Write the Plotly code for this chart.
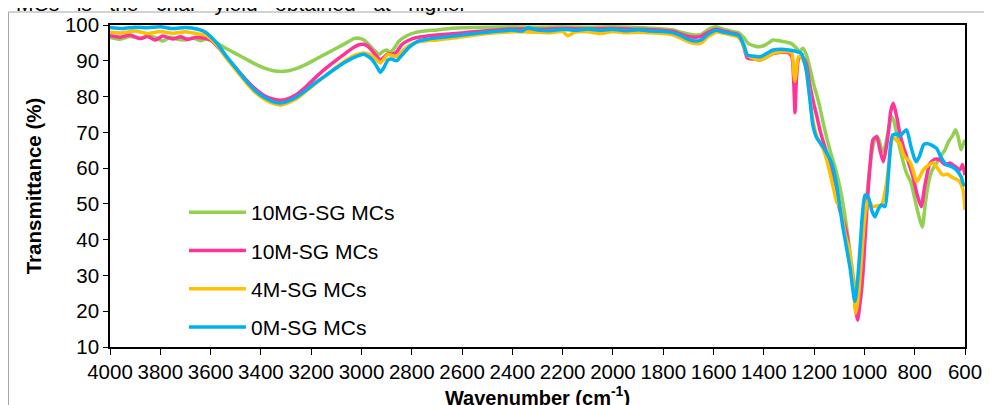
import plotly.graph_objects as go

# ---------------- data (wavenumber cm-1, transmittance %) ----------------
series_names = ["10MG-SG MCs", "10M-SG MCs", "4M-SG MCs", "0M-SG MCs"]
series_colors = ["#92D050", "#FF3399", "#FFC000", "#00B0F0"]

data_10mg = [
    (4000, 96.5), (3960, 96.0), (3920, 96.8), (3880, 96.3), (3850, 96.9), (3820, 96.5), (3790, 95.5),
    (3760, 96.6), (3730, 96.0), (3700, 95.8), (3670, 96.4), (3640, 95.6), (3620, 96.0), (3600, 95.8),
    (3570, 94.8), (3540, 93.5), (3500, 92.0), (3460, 90.5), (3420, 89.0), (3380, 87.8), (3350, 87.2),
    (3320, 87.0), (3290, 87.2), (3260, 87.8), (3220, 89.0), (3180, 90.5), (3140, 92.0), (3100, 93.5),
    (3060, 95.0), (3030, 96.2), (3010, 96.3), (2990, 95.8), (2970, 94.5), (2950, 93.0), (2930, 91.8),
    (2915, 92.6), (2900, 93.0), (2885, 92.4), (2870, 93.5), (2850, 95.5), (2820, 97.0), (2780, 98.0),
    (2740, 98.4), (2700, 98.6), (2650, 99.0), (2600, 99.2), (2500, 99.4), (2400, 99.5), (2300, 99.4),
    (2200, 99.5), (2100, 99.4), (2000, 99.5), (1900, 99.3), (1850, 99.1), (1800, 98.9), (1760, 98.6),
    (1730, 98.0), (1700, 97.5), (1670, 97.2), (1650, 97.3), (1620, 98.8), (1590, 99.5), (1560, 98.8),
    (1530, 98.3), (1500, 97.8), (1480, 96.5), (1463, 94.9), (1440, 94.2), (1415, 93.9), (1390, 94.6),
    (1363, 95.8), (1340, 95.6), (1310, 95.2), (1290, 94.8), (1270, 93.5), (1260, 92.6), (1244, 93.5),
    (1230, 91.5), (1215, 87.5), (1200, 83.0), (1190, 80.5), (1177, 77.0), (1165, 73.0), (1150, 68.5),
    (1135, 64.5), (1120, 61.0), (1105, 57.0), (1090, 52.0), (1075, 45.5), (1060, 38.0), (1045, 30.0),
    (1030, 23.5), (1020, 21.5), (1010, 27.0), (1000, 40.0), (990, 52.0), (978, 60.5), (965, 66.5),
    (951, 69.0), (940, 67.5), (930, 64.5), (918, 66.0), (905, 70.5), (893, 74.5), (882, 73.0),
    (870, 69.0), (859, 65.5), (845, 61.5), (832, 58.5), (815, 56.0), (800, 51.5), (785, 47.0),
    (770, 43.5), (758, 50.0), (745, 56.0), (730, 59.5), (713, 61.4), (695, 63.5), (680, 65.0),
    (665, 67.5), (650, 69.0), (638, 70.7), (628, 69.0), (616, 65.1), (608, 66.5), (600, 67.9),
]

data_10m = [
    (4000, 97.0), (3960, 96.6), (3920, 97.2), (3880, 96.2), (3850, 96.8), (3820, 95.8), (3790, 96.9),
    (3750, 96.1), (3720, 96.7), (3690, 96.0), (3660, 96.5), (3620, 96.3), (3600, 95.8), (3570, 93.8),
    (3540, 91.3), (3500, 88.0), (3460, 84.8), (3420, 82.0), (3380, 80.0), (3340, 79.1), (3320, 79.0),
    (3300, 79.2), (3260, 80.5), (3220, 82.8), (3180, 85.5), (3140, 88.0), (3100, 90.2), (3060, 92.3),
    (3030, 93.8), (3000, 94.6), (2980, 94.3), (2960, 93.0), (2940, 91.3), (2925, 90.2), (2910, 91.0),
    (2895, 92.0), (2880, 91.8), (2860, 92.5), (2840, 94.5), (2810, 95.8), (2780, 96.5), (2740, 96.9),
    (2700, 97.2), (2650, 97.5), (2600, 97.8), (2550, 98.1), (2500, 98.4), (2450, 98.7), (2400, 98.9),
    (2300, 98.8), (2200, 99.0), (2100, 98.9), (2000, 99.0), (1900, 98.8), (1850, 98.7), (1800, 98.5),
    (1760, 98.2), (1730, 97.5), (1700, 96.8), (1670, 96.6), (1650, 96.8), (1620, 98.0), (1590, 98.8),
    (1560, 98.3), (1530, 97.8), (1500, 97.2), (1480, 94.0), (1465, 90.7), (1440, 90.5), (1415, 90.2),
    (1390, 91.0), (1363, 92.0), (1330, 92.4), (1300, 92.2), (1288, 91.0), (1281, 84.0), (1276, 75.5),
    (1271, 84.0), (1262, 90.5), (1250, 91.3), (1240, 90.5), (1230, 88.8), (1215, 82.5), (1200, 77.5),
    (1190, 74.8), (1177, 70.7), (1160, 66.5), (1137, 61.4), (1115, 54.0), (1098, 48.3), (1085, 45.5),
    (1071, 41.9), (1058, 35.0), (1045, 27.9), (1035, 20.5), (1027, 17.5), (1018, 22.0), (1006, 30.7),
    (996, 42.0), (986, 53.0), (976, 62.0), (966, 67.9), (951, 68.8), (938, 65.0), (925, 61.8),
    (915, 65.0), (905, 69.7), (895, 76.0), (885, 78.1), (872, 74.5), (859, 69.7), (845, 66.0),
    (832, 63.2), (807, 57.6), (790, 52.5), (774, 49.2), (760, 55.0), (739, 61.4), (720, 62.5),
    (700, 62.3), (680, 61.0), (660, 61.4), (640, 60.5), (620, 59.5), (610, 61.0), (600, 58.0),
]

data_4m = [
    (4000, 98.0), (3950, 97.8), (3900, 98.3), (3850, 97.6), (3800, 98.2), (3750, 97.7), (3700, 98.1),
    (3650, 97.5), (3620, 97.2), (3600, 96.2), (3570, 94.0), (3540, 91.0), (3500, 87.5), (3460, 84.0),
    (3420, 81.0), (3380, 79.0), (3340, 77.8), (3320, 77.6), (3300, 78.0), (3260, 79.3), (3220, 81.5),
    (3180, 83.8), (3140, 86.0), (3100, 88.2), (3060, 90.2), (3020, 91.7), (2990, 92.2), (2960, 91.5),
    (2940, 90.2), (2925, 89.4), (2910, 90.5), (2895, 91.8), (2880, 91.5), (2860, 91.2), (2840, 92.5),
    (2810, 94.3), (2780, 95.2), (2740, 95.6), (2700, 95.8), (2650, 96.2), (2600, 96.7), (2550, 97.2),
    (2500, 97.6), (2450, 97.9), (2400, 98.1), (2300, 98.0), (2250, 97.8), (2200, 98.2), (2180, 97.0),
    (2150, 98.0), (2100, 98.1), (2050, 97.6), (2000, 98.2), (1950, 97.8), (1900, 98.0), (1850, 97.8),
    (1800, 97.6), (1760, 97.2), (1730, 96.3), (1700, 95.3), (1670, 94.8), (1650, 94.9), (1620, 96.8),
    (1590, 98.0), (1560, 97.7), (1530, 97.2), (1500, 96.5), (1480, 94.2), (1465, 91.5), (1440, 90.6),
    (1415, 90.2), (1390, 91.0), (1363, 92.1), (1330, 92.5), (1300, 92.5), (1288, 92.0), (1280, 86.0),
    (1276, 84.2), (1271, 87.0), (1262, 91.2), (1250, 91.0), (1235, 88.5), (1222, 82.5), (1205, 73.5),
    (1190, 69.0), (1165, 65.5), (1150, 62.3), (1125, 55.0), (1110, 50.5), (1098, 49.2), (1075, 41.0),
    (1060, 37.1), (1045, 28.0), (1034, 19.4), (1024, 24.0), (1014, 32.5), (1000, 45.0), (986, 51.1),
    (970, 49.5), (966, 49.2), (950, 49.5), (932, 49.7), (912, 55.8), (895, 66.0), (887, 68.8),
    (870, 67.5), (859, 67.0), (850, 65.0), (840, 63.2), (819, 61.8), (805, 59.0), (793, 56.2),
    (780, 57.5), (766, 59.5), (745, 60.8), (727, 61.4), (710, 60.0), (688, 58.1), (670, 58.3),
    (648, 57.3), (625, 56.5), (608, 53.9), (600, 48.3),
]

data_0m = [
    (4000, 99.3), (3950, 99.0), (3900, 99.4), (3850, 99.2), (3800, 99.5), (3750, 99.0), (3700, 99.3),
    (3650, 98.8), (3620, 98.0), (3600, 96.8), (3570, 94.5), (3540, 91.5), (3500, 88.0), (3460, 84.5),
    (3420, 81.5), (3380, 79.5), (3340, 78.3), (3320, 78.2), (3300, 78.5), (3260, 79.8), (3220, 81.8),
    (3180, 84.0), (3140, 86.0), (3100, 88.0), (3060, 89.8), (3020, 91.2), (2990, 91.8), (2960, 90.5),
    (2940, 88.5), (2925, 86.8), (2910, 88.2), (2895, 90.2), (2880, 90.5), (2860, 90.0), (2840, 91.5),
    (2810, 93.8), (2780, 95.3), (2740, 96.0), (2700, 96.4), (2650, 96.8), (2600, 97.2), (2550, 97.6),
    (2500, 98.0), (2450, 98.3), (2400, 98.6), (2360, 98.3), (2340, 99.2), (2300, 98.6), (2250, 98.4),
    (2200, 98.8), (2150, 98.5), (2100, 98.9), (2050, 98.5), (2000, 98.8), (1950, 98.4), (1900, 98.7),
    (1850, 98.3), (1800, 98.2), (1760, 97.8), (1730, 97.0), (1700, 96.0), (1670, 95.5), (1650, 95.8),
    (1620, 97.5), (1590, 98.5), (1560, 98.0), (1530, 97.6), (1500, 97.0), (1480, 94.5), (1465, 91.6),
    (1440, 91.3), (1415, 91.1), (1390, 92.0), (1363, 93.0), (1330, 93.2), (1300, 93.0), (1270, 92.6),
    (1250, 92.0), (1240, 90.0), (1230, 87.0), (1218, 80.0), (1205, 72.0), (1190, 68.5), (1165, 66.0),
    (1130, 61.3), (1110, 55.0), (1086, 43.6), (1058, 32.5), (1038, 22.7), (1028, 28.0), (1018, 37.0),
    (1008, 47.0), (998, 52.5), (985, 52.0), (970, 48.0), (958, 46.4), (945, 48.5), (932, 49.7),
    (918, 49.3), (905, 58.0), (895, 67.0), (887, 69.3), (870, 69.5), (859, 68.9), (845, 70.0),
    (832, 70.7), (815, 66.0), (800, 62.5), (793, 61.8), (780, 63.5), (765, 66.5), (753, 66.9),
    (735, 66.5), (713, 65.5), (695, 63.0), (674, 60.9), (655, 60.5), (634, 59.5), (615, 57.5),
    (608, 55.8), (600, 55.0),
]

x_ticks = [4000, 3800, 3600, 3400, 3200, 3000, 2800, 2600, 2400, 2200, 2000, 1800, 1600, 1400, 1200, 1000, 800, 600]
y_ticks = [10, 20, 30, 40, 50, 60, 70, 80, 90, 100]

# ---------------- figure ----------------
# The page body has an 8px margin, so the figure is laid out in figure
# coordinates offset by 8px from the screenshot.
FONT = "Liberation Sans, Arial, sans-serif"
ML, MT, PW, PH = 102, 17, 855, 322  # plot area (figure coords)

fig = go.Figure()
for name, color, data in zip(series_names, series_colors, [data_10mg, data_10m, data_4m, data_0m]):
    xs = [p[0] for p in data]
    ys = [p[1] for p in data]
    fig.add_trace(go.Scatter(
        x=xs, y=ys, mode="lines", name=name, legendgroup=name,
        line=dict(color=color, width=3.5, shape="spline", smoothing=0.6),
    ))

fig.update_layout(
    width=992, height=405,
    margin=dict(l=ML, r=992 - ML - PW, t=MT, b=405 - MT - PH, autoexpand=False),
    paper_bgcolor="white", plot_bgcolor="white",
    font=dict(family=FONT, size=20, color="black"),
    showlegend=True,
    legend=dict(
        x=(176 - ML) / PW, y=(MT + PH - 184) / PH, xanchor="left", yanchor="top",
        bgcolor="rgba(0,0,0,0)", font=dict(size=21),
        tracegroupgap=8, itemwidth=57,
    ),
    xaxis=dict(
        range=[4000, 600], tickvals=x_ticks, ticktext=[str(v) for v in x_ticks],
        showgrid=False, zeroline=False, showline=True, linecolor="black", linewidth=1.5,
        mirror=True, ticks="outside", ticklen=6, tickcolor="black",
        tickfont=dict(size=20.5),
        title=dict(text="<b>Wavenumber (cm<sup>-1</sup>)</b>", font=dict(size=20), standoff=4),
    ),
    yaxis=dict(
        range=[10, 100], tickvals=y_ticks,
        showgrid=False, zeroline=False, showline=True, linecolor="black", linewidth=1.5,
        mirror=True, ticks="outside", ticklen=5, tickcolor="black",
        tickfont=dict(size=20.5),
        title=dict(text="<b>Transmittance (%)</b>", font=dict(size=20.5), standoff=18),
    ),
    shapes=[dict(
        type="rect", xref="paper", yref="paper",
        x0=(0.5 - ML) / PW, x1=(1000 - ML) / PW,
        y0=(MT + PH - 420) / PH, y1=(MT + PH - 4) / PH,
        line=dict(color="#A6A6A6", width=1), fillcolor="rgba(0,0,0,0)", layer="below",
    )],
    annotations=[dict(
        text="MCs \u00a0\u00a0is \u00a0\u00a0the \u00a0\u00a0char \u00a0\u00a0yield \u00a0\u00a0obtained \u00a0\u00a0at \u00a0\u00a0higher",
        xref="paper", yref="paper",
        x=(6 - ML) / PW, y=(MT + PH - 9) / PH, xanchor="left", yanchor="bottom",
        showarrow=False, font=dict(size=21, family=FONT, color="black"),
    )],
)

fig.write_html("out.html")
